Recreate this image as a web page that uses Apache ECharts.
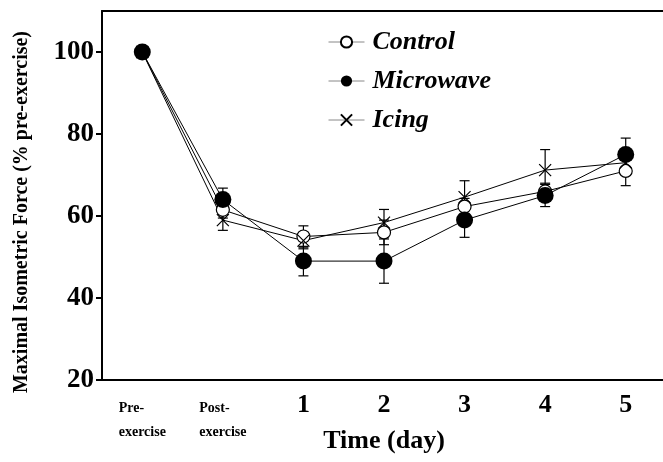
<!DOCTYPE html>
<html>
<head>
<meta charset="utf-8">
<script src="https://cdn.jsdelivr.net/npm/echarts@6/dist/echarts.min.js"></script>
<style>html,body{margin:0;padding:0;background:#fff;}#c{width:663px;height:462px;}</style>
</head>
<body>
<div id="c"></div>
<script>
var categories = ['Pre-\nexercise', 'Post-\nexercise', '1', '2', '3', '4', '5'];
var yTicks = [20, 40, 60, 80, 100];
var control = [100, 61.5, 55, 56, 62.3, 66, 71];
var microwave = [100, 64, 49, 49, 59, 65, 75];
var icing = [100, 59, 54, 58.4, 64.6, 71.2, 73];
var controlSd = [0, 2, 2.6, 3, 2, 2, 3.6];
var microwaveSd = [0, 2.8, 3.6, 5.4, 4.2, 2.7, 4];
var icingSd = [0, 2.5, 2, 3.2, 4, 5, 2];

var serif = '"Liberation Serif", "Times New Roman", serif';

function errData(vals, sds) {
  return vals.map(function (v, i) { return [i, v - sds[i], v + sds[i]]; });
}
function errSeries(name, vals, sds) {
  return {
    type: 'custom', name: name + ' err', z: 1, silent: true,
    data: errData(vals, sds),
    renderItem: function (params, api) {
      var lo = api.coord([api.value(0), api.value(1)]);
      var hi = api.coord([api.value(0), api.value(2)]);
      if (Math.abs(lo[1] - hi[1]) < 0.5) return null;
      var w = 5;
      var st = { stroke: '#000', lineWidth: 1.2 };
      return { type: 'group', children: [
        { type: 'line', shape: { x1: lo[0], y1: lo[1], x2: hi[0], y2: hi[1] }, style: st },
        { type: 'line', shape: { x1: lo[0] - w, y1: lo[1], x2: lo[0] + w, y2: lo[1] }, style: st },
        { type: 'line', shape: { x1: hi[0] - w, y1: hi[1], x2: hi[0] + w, y2: hi[1] }, style: st }
      ]};
    }
  };
}

var chart = echarts.init(document.getElementById('c'), null, { renderer: 'canvas' });
chart.setOption({
  animation: false,
  backgroundColor: '#fff',
  textStyle: { fontFamily: serif },
  grid: { left: 102, right: -3, top: 11, bottom: 82, containLabel: false, outerBoundsMode: 'none' },
  legend: {
    orient: 'vertical', left: 323, top: 24, itemWidth: 36, itemHeight: 14, itemGap: 13,
    data: ['Control', 'Microwave', 'Icing'],
    textStyle: { fontFamily: serif, fontSize: 26, fontWeight: 'bold', fontStyle: 'italic', color: '#000', padding: [0, 0, 0, 3] },
    lineStyle: { color: '#888', width: 1 }
  },
  xAxis: [{
    type: 'category', data: categories, boundaryGap: true,
    axisLine: { lineStyle: { color: '#000', width: 2 } },
    axisTick: { alignWithLabel: true, length: 6, lineStyle: { color: '#000', width: 2 } },
    axisLabel: {
      margin: 16, color: '#000', fontFamily: serif,
      formatter: function (v) {
        if (v.indexOf('\n') >= 0) {
          return v.split('\n').map(function (s) { return '{s|' + s + '}'; }).join('\n');
        }
        return '{b|' + v + '}';
      },
      rich: {
        s: { fontSize: 14, fontWeight: 'bold', fontFamily: serif, lineHeight: 24, align: 'left', color: '#000' },
        b: { fontSize: 26, fontWeight: 'bold', fontFamily: serif, lineHeight: 18, color: '#000' }
      }
    },
    name: 'Time (day)', nameLocation: 'middle', nameGap: 48, nameMoveOverlap: false,
    nameTextStyle: { fontSize: 26, fontWeight: 'bold', fontFamily: serif, color: '#000' }
  }, {
    type: 'category', data: categories, position: 'top',
    axisLine: { lineStyle: { color: '#000', width: 2 } },
    axisTick: { show: false }, axisLabel: { show: false }
  }],
  yAxis: {
    type: 'value', min: 20, max: 110, interval: 10,
    splitLine: { show: false },
    axisLine: { show: true, lineStyle: { color: '#000', width: 2 } },
    axisTick: { show: true, length: 6, customValues: yTicks, lineStyle: { color: '#000', width: 2 } },
    axisLabel: { customValues: yTicks, margin: 8, color: '#000', fontSize: 27, fontWeight: 'bold', fontFamily: serif }
  },
  graphic: [{
    type: 'text', x: 22, y: 212, rotation: Math.PI / 2,
    style: { text: 'Maximal Isometric Force (% pre-exercise)', fontFamily: serif, fontSize: 20, fontWeight: 'bold',
      fill: '#000', align: 'center', verticalAlign: 'middle' }
  }],
  series: [
    errSeries('Control', control, controlSd),
    errSeries('Microwave', microwave, microwaveSd),
    errSeries('Icing', icing, icingSd),
    {
      name: 'Control', type: 'line', data: control, z: 3,
      symbol: 'circle', symbolSize: 13,
      itemStyle: { color: '#fff', borderColor: '#000', borderWidth: 1.2 },
      lineStyle: { color: '#000', width: 1 }
    },
    {
      name: 'Icing', type: 'line', data: icing, z: 3,
      symbol: 'path://M0,0L10,10M0,10L10,0', symbolSize: 12,
      itemStyle: { color: '#000', borderColor: '#000', borderWidth: 1.2 },
      lineStyle: { color: '#000', width: 1 }
    },
    {
      name: 'Microwave', type: 'line', data: microwave, z: 4,
      symbol: 'circle', symbolSize: 17,
      itemStyle: { color: '#000' },
      lineStyle: { color: '#000', width: 1 }
    }
  ]
});
</script>
</body>
</html>
